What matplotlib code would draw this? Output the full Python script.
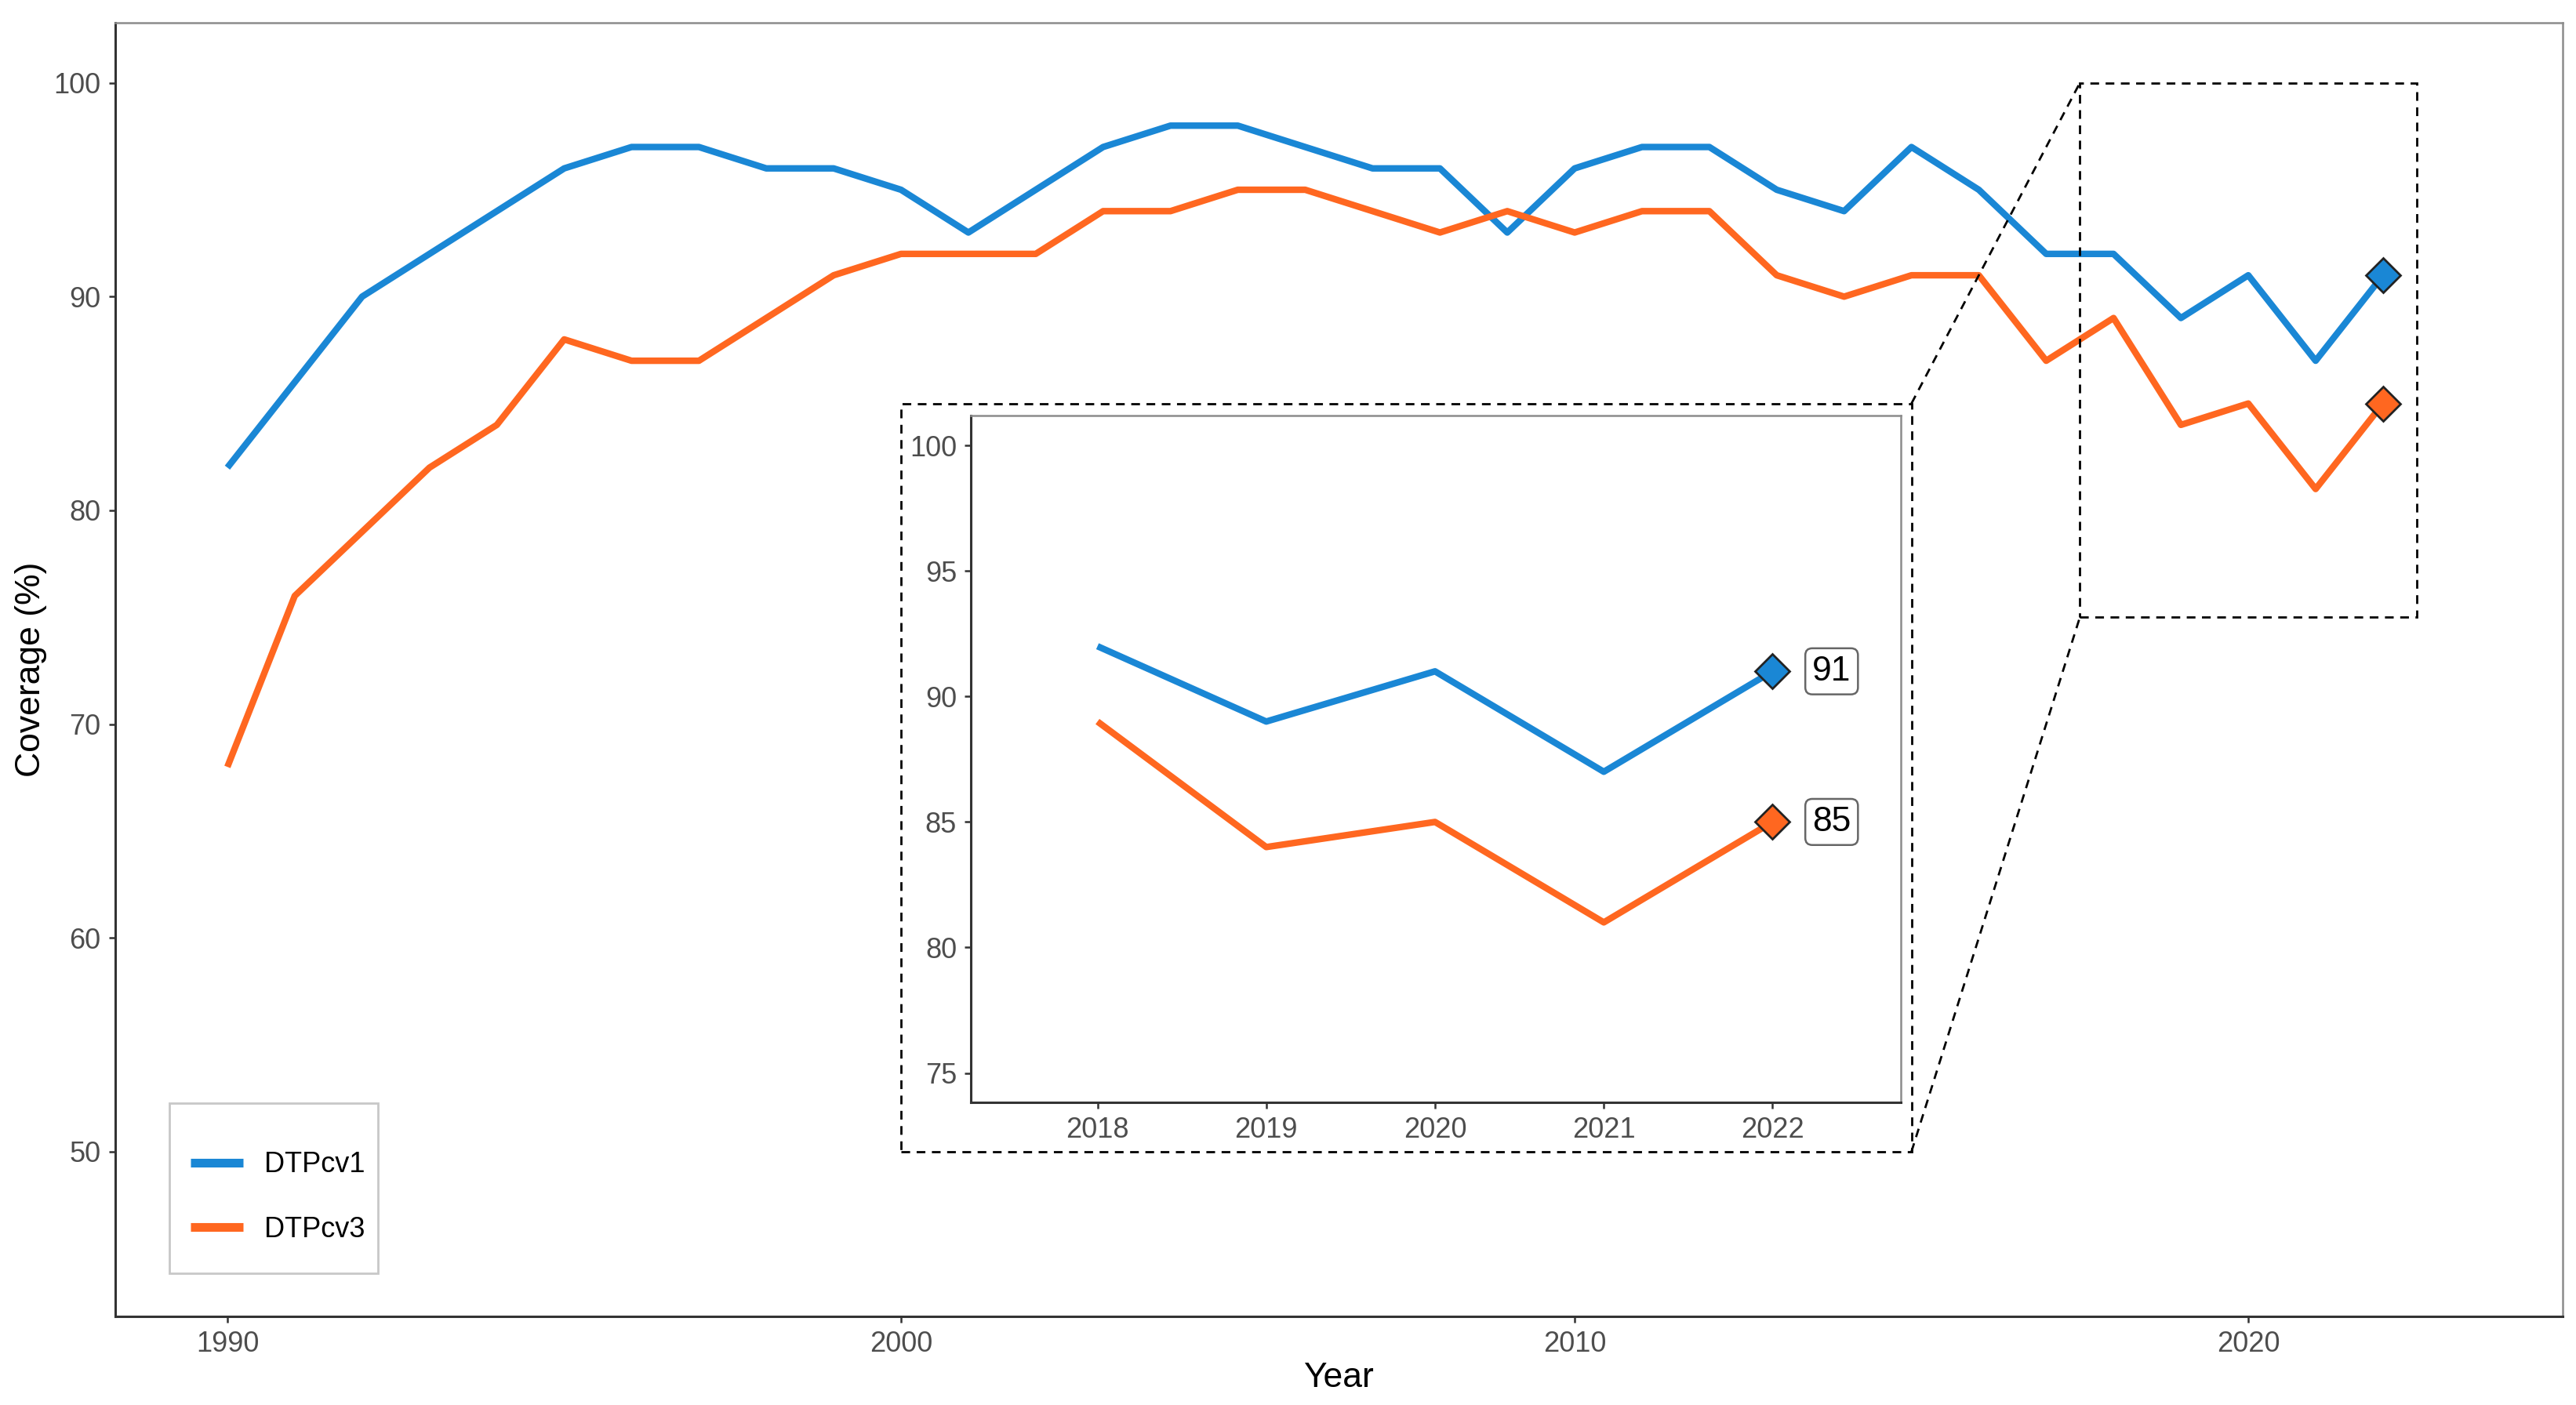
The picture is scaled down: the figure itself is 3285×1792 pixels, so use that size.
import matplotlib
matplotlib.use("Agg")
import matplotlib.pyplot as plt
from matplotlib.patches import Rectangle
from matplotlib.lines import Line2D

plt.rcParams['font.family'] = ['Liberation Sans', 'DejaVu Sans']

years = list(range(1990, 2023))
dtp1 = [82, 86, 90, 92, 94, 96, 97, 97, 96, 96, 95, 93, 95, 97, 98, 98, 97,
        96, 96, 93, 96, 97, 97, 95, 94, 97, 95, 92, 92, 89, 91, 87, 91]
dtp3 = [68, 76, 79, 82, 84, 88, 87, 87, 89, 91, 92, 92, 92, 94, 94, 95, 95,
        94, 93, 94, 93, 94, 94, 91, 90, 91, 91, 87, 89, 84, 85, 81, 85]
series_names = ["DTPcv1", "DTPcv3"]
colors = ["#1a87d5", "#ff6720"]

main_xticks = [1990, 2000, 2010, 2020]
main_yticks = [50, 60, 70, 80, 90, 100]
zoom_years = [2018, 2019, 2020, 2021, 2022]
zoom_yticks = [75, 80, 85, 90, 95, 100]

TICK_C = "#4d4d4d"
DASH = (0, (4, 3))


def style_axes(ax):
    for side in ["left", "bottom"]:
        ax.spines[side].set_color("#333333")
        ax.spines[side].set_linewidth(1.1)
    for side in ["top", "right"]:
        ax.spines[side].set_color("#8c8c8c")
        ax.spines[side].set_linewidth(0.9)
    ax.tick_params(colors="#333333", labelcolor=TICK_C, labelsize=13,
                   length=3, width=0.9)


fig = plt.figure(figsize=(16.425, 8.96), dpi=200)
ax = fig.add_axes([0.0446, 0.0632, 0.9503, 0.9204])

for vals, name, c in zip([dtp1, dtp3], series_names, colors):
    ax.plot(years, vals, color=c, lw=3.0, label=name, solid_capstyle="butt")
    ax.plot(years[-1], vals[-1], marker="D", ms=11, mfc=c, mec="#222222",
            mew=1.0, ls="none", zorder=5)

ax.set_xlim(1988.33, 2024.67)
ax.set_ylim(42.3, 102.8)
ax.set_xticks(main_xticks)
ax.set_yticks(main_yticks)
style_axes(ax)
ax.set_xlabel("Year", fontsize=16, labelpad=2)
ax.set_ylabel("Coverage (%)", fontsize=16, labelpad=3)

# zoom region and inset frame
ax.add_patch(Rectangle((2017.5, 75), 5, 25, fill=False, ec="black",
                       lw=1.0, ls=DASH, zorder=3))
ax.add_patch(Rectangle((2000, 50), 15, 35, fill=False, ec="black",
                       lw=1.0, ls=DASH, zorder=3))
ax.plot([2015, 2017.5], [85, 100], color="black", lw=1.0, ls=DASH)
ax.plot([2015, 2017.5], [50, 75], color="black", lw=1.0, ls=DASH)

# legend with its own frame (taller than matplotlib's default padding)
ax.add_patch(Rectangle((0.0221, 0.033), 0.0853, 0.132, transform=ax.transAxes,
                       fill=True, fc="white", ec="#c8c8c8", lw=1.0, zorder=6))
handles = [Line2D([0], [0], color=c, lw=4, solid_capstyle="butt") for c in colors]
leg = ax.legend(handles, series_names, loc="center left",
                bbox_to_anchor=(0.0309, 0.092), fontsize=13, frameon=False,
                handlelength=1.85, handletextpad=0.75, labelspacing=1.32,
                borderpad=0, borderaxespad=0)
leg.set_zorder(7)

# inset
ins = fig.add_axes([0.3769, 0.2152, 0.3610, 0.4889])
for vals, c in zip([dtp1, dtp3], colors):
    ins.plot(years[-5:], vals[-5:], color=c, lw=3.0, solid_capstyle="butt")
    ins.plot(years[-1], vals[-1], marker="D", ms=11, mfc=c, mec="#222222",
             mew=1.0, ls="none", zorder=5)
    ins.text(2022.35, vals[-1], str(vals[-1]), fontsize=16, ha="center",
             va="center", color="black",
             bbox=dict(boxstyle="round,pad=0.2,rounding_size=0.2",
                       fc="white", ec="#666666", lw=0.9))
ins.set_xlim(2017.25, 2022.76)
ins.set_ylim(73.82, 101.18)
ins.set_xticks(zoom_years)
ins.set_yticks(zoom_yticks)
style_axes(ins)

fig.savefig("out.png", dpi=200, facecolor="white")
